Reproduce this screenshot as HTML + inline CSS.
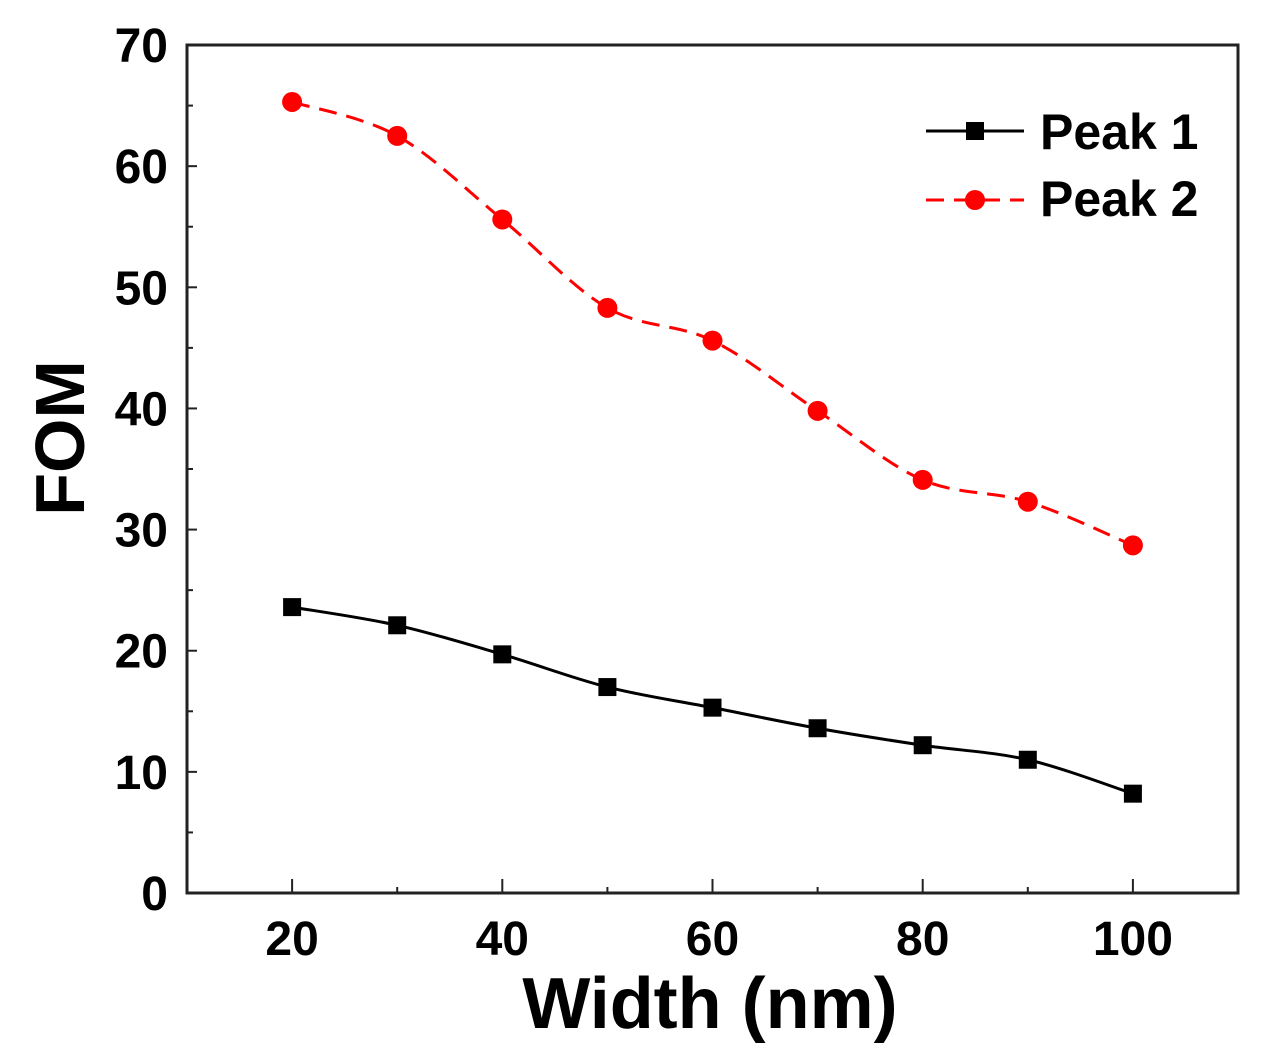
<!DOCTYPE html>
<html><head><meta charset="utf-8"><style>
body{margin:0;background:#fff}
svg{display:block;font-family:"Liberation Sans",Arial,sans-serif;font-weight:bold}
</style></head><body>
<svg id="chart" width="1264" height="1064">
<rect x="187" y="45" width="1051" height="848" fill="none" stroke="#222" stroke-width="3"/>
<g id="axes"></g><g id="series"></g>
<text x="710" y="1028" font-size="72" text-anchor="middle">Width (nm)</text>
<text transform="translate(84,438) rotate(-90)" font-size="70" text-anchor="middle">FOM</text>
<g>
<g>
<line x1="926" y1="131" x2="1024" y2="131" stroke="#000" stroke-width="3"/>
<rect x="966" y="122" width="18" height="18" fill="#000"/>
<text x="1040" y="149" font-size="50">Peak 1</text></g>
<g>
<line x1="926" y1="200" x2="1024" y2="200" stroke="#f00" stroke-width="3" stroke-dasharray="18,10"/>
<circle cx="975" cy="200" r="10" fill="#f00"/>
<text x="1040" y="216" font-size="50">Peak 2</text></g></g>
</svg>
<script>
const widths=[20,30,40,50,60,70,80,90,100];
const peak1=[23.6,22.1,19.7,17.0,15.3,13.6,12.2,11.0,8.2];
const peak2=[65.3,62.5,55.6,48.3,45.6,39.8,34.1,32.3,28.7];
const yTicks=[0,10,20,30,40,50,60,70];
const xTicks=[20,40,60,80,100];
const NS="http://www.w3.org/2000/svg";
const X=v=>187+(v-10)*10.51, Y=v=>893-v*12.114;
function mk(t,a,p){const e=document.createElementNS(NS,t);for(const k in a)e.setAttribute(k,a[k]);p.appendChild(e);return e;}
const ax=document.getElementById('axes');
for(let v=0;v<=70;v+=5){
 const e=mk('line',{x1:187,x2:187+(v%10?6:10),y1:Y(v),y2:Y(v),stroke:'#222','stroke-width':2},ax);
 
 
}
for(let v=20;v<=110;v+=10){
 const e=mk('line',{x1:X(v),x2:X(v),y1:893,y2:893-(v%20?6:14),stroke:'#222','stroke-width':2},ax);
 
 
}
yTicks.forEach(v=>{const t=mk('text',{x:168,y:Y(v)+17,'font-size':48,'text-anchor':'end'},ax);t.textContent=v;
 
 });
xTicks.forEach(v=>{const t=mk('text',{x:X(v),y:955,'font-size':48,'text-anchor':'middle'},ax);t.textContent=v;
 
 });
const sg=document.getElementById('series');
function smooth(pts){let d=`M${pts[0][0]},${pts[0][1]}`;for(let i=0;i<pts.length-1;i++){const p0=pts[Math.max(0,i-1)],p1=pts[i],p2=pts[i+1],p3=pts[Math.min(pts.length-1,i+2)];
 d+=` C${p1[0]+(p2[0]-p0[0])/6},${p1[1]+(p2[1]-p0[1])/6} ${p2[0]-(p3[0]-p1[0])/6},${p2[1]-(p3[1]-p1[1])/6} ${p2[0]},${p2[1]}`;}return d;}
const p1=widths.map((w,i)=>[X(w),Y(peak1[i])]), p2=widths.map((w,i)=>[X(w),Y(peak2[i])]);
const l1=mk('path',{d:smooth(p1),fill:'none',stroke:'#000','stroke-width':3},sg);


const l2=mk('path',{d:smooth(p2),fill:'none',stroke:'#f00','stroke-width':3,'stroke-dasharray':'18,10'},sg);


p1.forEach(p=>{const e=mk('rect',{x:p[0]-9,y:p[1]-9,width:18,height:18,fill:'#000'},sg);
 
 });
p2.forEach(p=>{const e=mk('circle',{cx:p[0],cy:p[1],r:10,fill:'#f00'},sg);
 
 });
</script>
</body></html>
